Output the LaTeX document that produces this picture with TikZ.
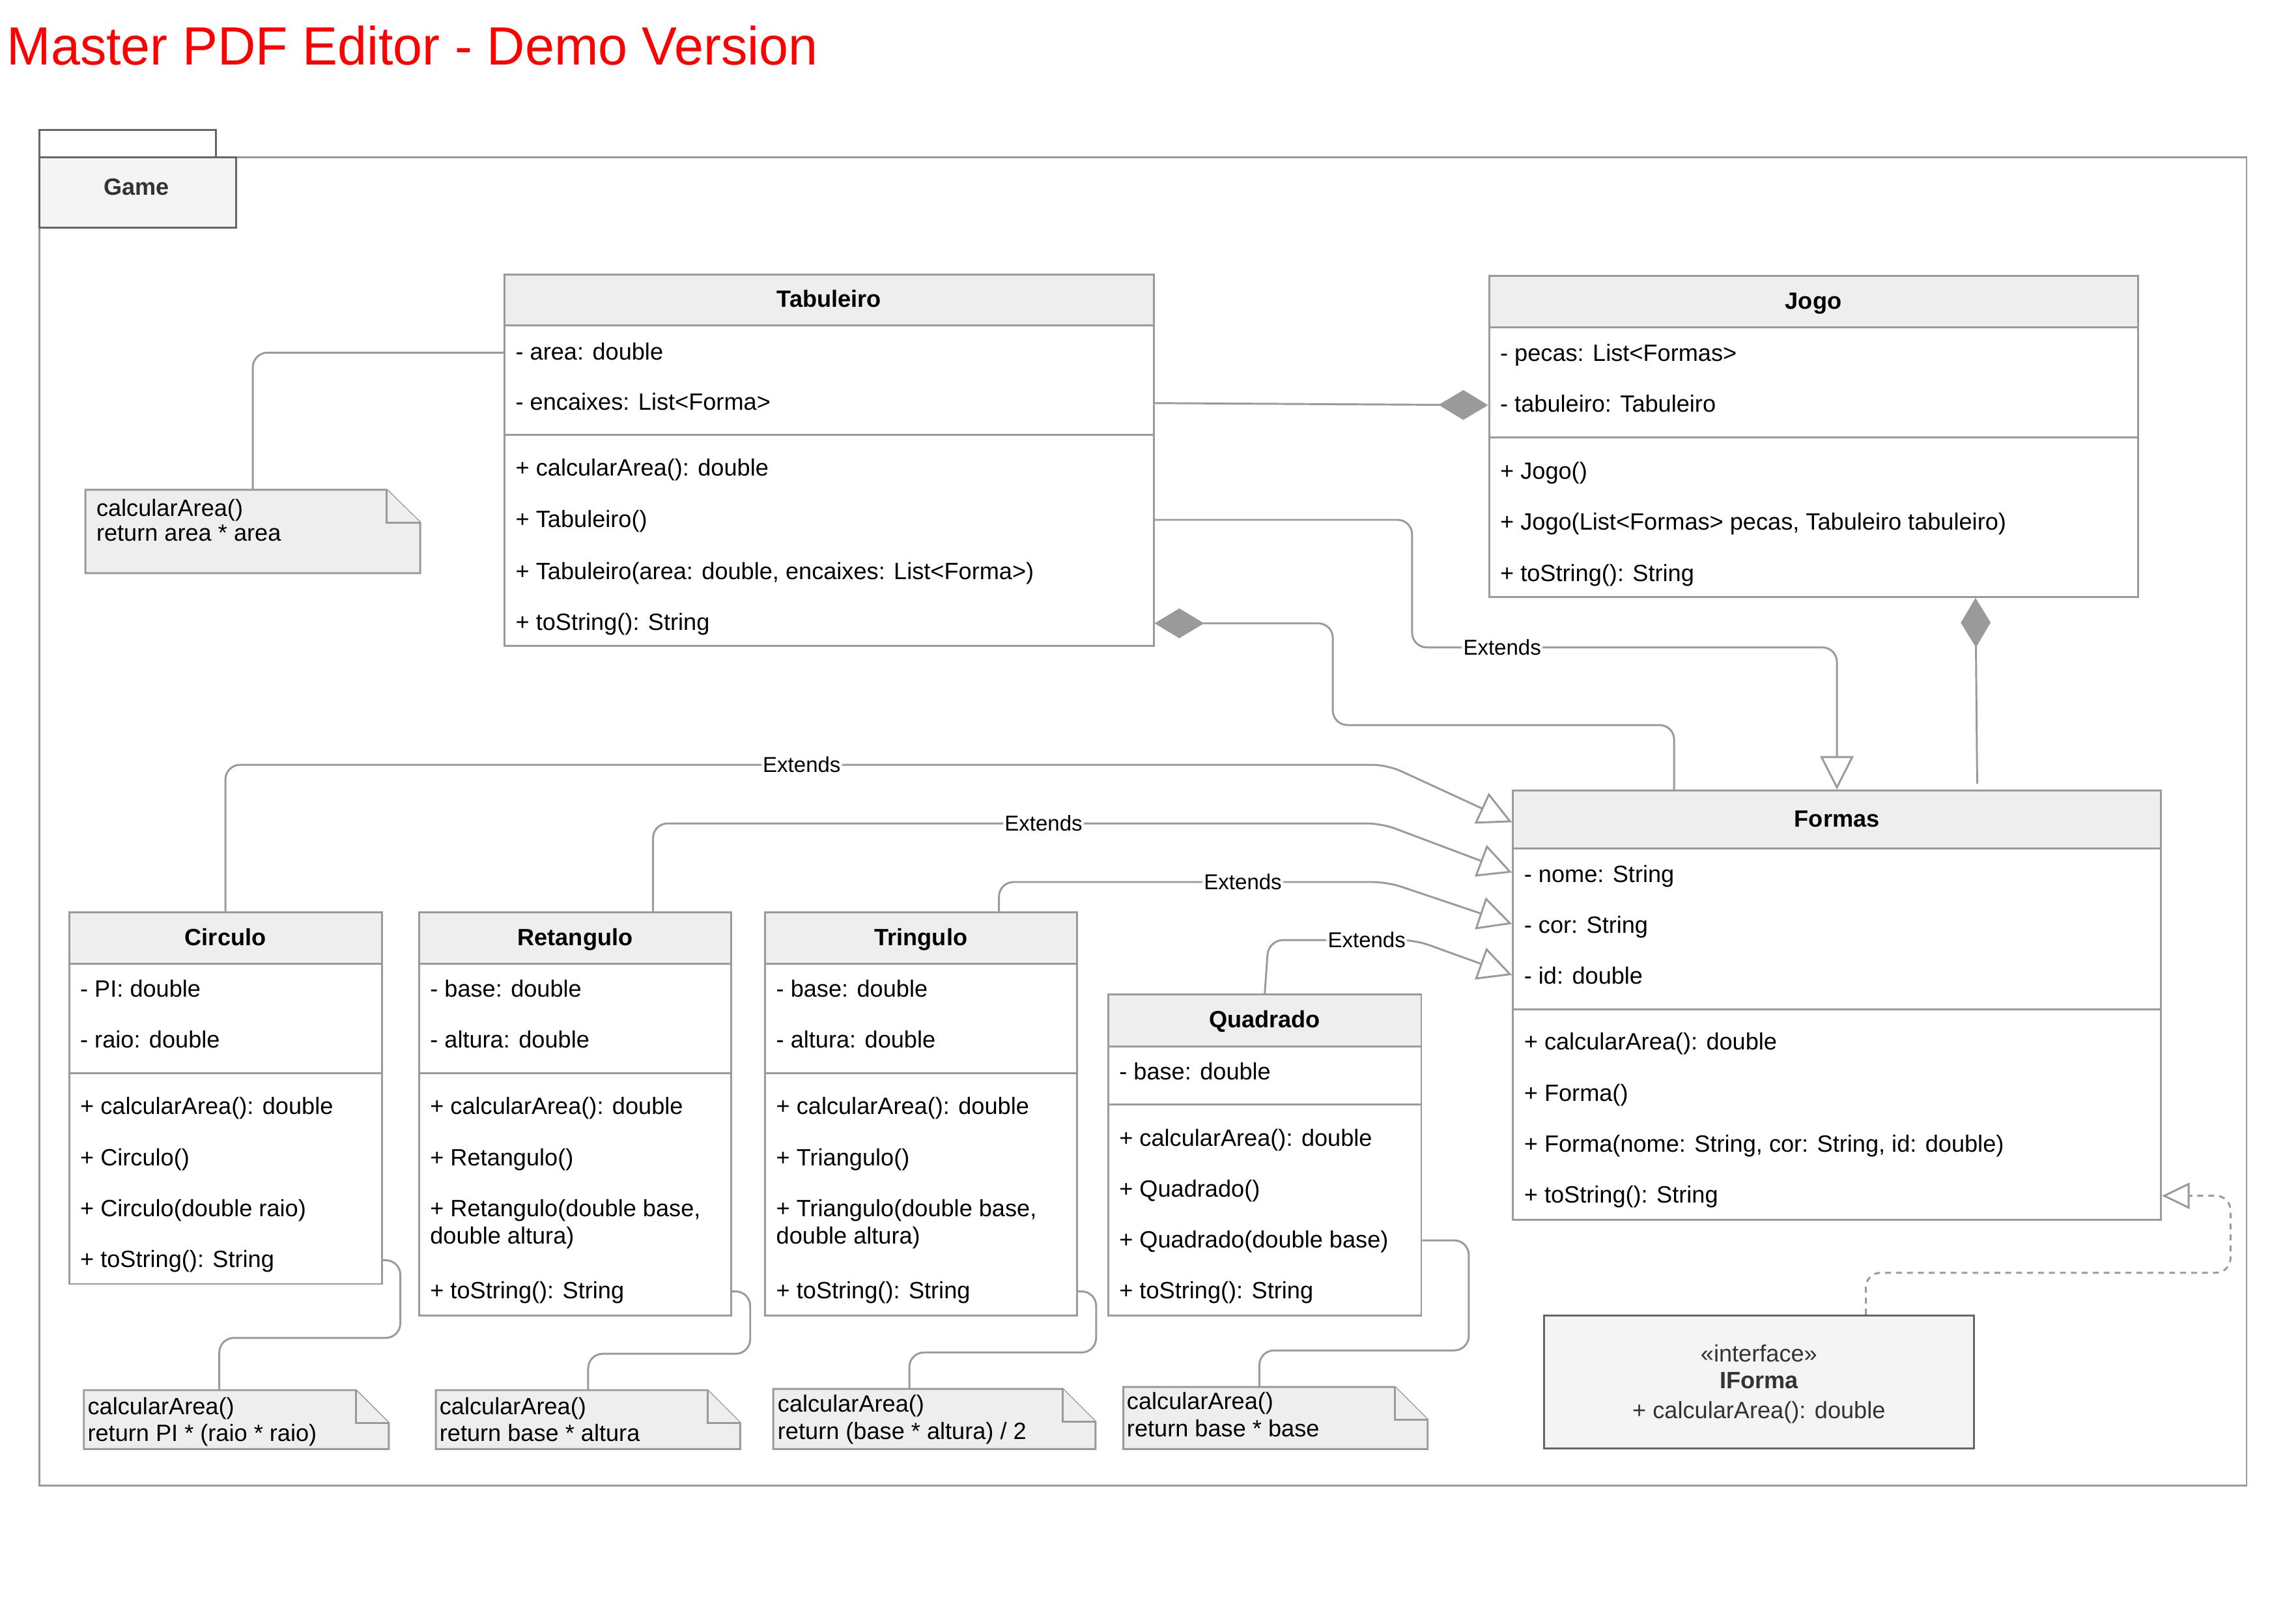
\documentclass[tikz,border=0pt]{standalone}
\usepackage{fontspec}
\setmainfont{Liberation Sans}
\usepackage{graphicx}
\usetikzlibrary{arrows.meta,fit}
\definecolor{edgegray}{HTML}{9A9A9A}
\definecolor{headgray}{HTML}{EEEEEE}
\definecolor{pkggray}{HTML}{F4F4F4}
\definecolor{pkgline}{HTML}{666666}
\definecolor{darktext}{HTML}{333333}
\begin{document}
\begin{tikzpicture}[
  x=0.02cm, y=-0.02cm, line width=0.75pt,
  classbox/.style={draw=edgegray, fill=white, inner sep=0pt},
  headbox/.style={draw=edgegray, fill=headgray, inner sep=0pt},
  headtext/.style={inner sep=0pt, text height=7.4pt, text depth=1.8pt, font=\fontsize{9.2pt}{11pt}\selectfont\bfseries},
  row/.style={anchor=west, inner sep=0pt, text height=7.4pt, text depth=1.8pt, font=\fontsize{9.2pt}{11pt}\selectfont},
  ifacetext/.style={inner sep=0pt, text height=7.4pt, text depth=1.8pt, text=darktext, font=\fontsize{9.2pt}{11pt}\selectfont},
  notebox/.style={draw=edgegray, fill=headgray, line join=miter},
  link/.style={draw=edgegray, rounded corners=0.2cm},
  elabel/.style={fill=white, inner sep=0.6pt, font=\fontsize{8.4pt}{10pt}\selectfont},
  extends/.style={link, -{Triangle[open, length=0.46cm, width=0.46cm]}},
  owns/.style={link, {Diamond[length=0.68cm, width=0.41cm]}-},
  realizes/.style={link, dash pattern=on 0.08cm off 0.07cm, -{Triangle[open, length=0.38cm, width=0.36cm]}}
]
  \useasboundingbox (0,0) rectangle (1568,1114);

  \node[anchor=base west, inner sep=0pt, text=red, font=\fontsize{21pt}{24pt}\selectfont] (title) at (4.1,44.4) {\scalebox{0.98}[1]{Master PDF Editor - Demo Version}};

  % package Game
  \node[draw=edgegray, inner sep=0pt, fit={(27.2,107.9) (1541.6,1019.3)}] (pkg) {};
  \node[draw=pkgline, fill=white, inner sep=0pt, fit={(27.2,89) (148.2,107.9)}] (pkg-tab) {};
  \node[draw=pkgline, fill=pkggray, inner sep=0pt, fit={(27.2,107.9) (161.9,156.2)}] (game) {};
  \node[headtext, text=darktext] (game-t) at (93.8,129) {Game};

  % Tabuleiro
  \node[classbox, fit={(346.2,188.2) (791.6,443)}] (tab) {};
  \node[headbox, fit={(346.2,188.2) (791.6,223.3)}] (tab-h) {};
  \node[headtext] (tab-t) at (tab-h) {Tabuleiro};
  \draw[draw=edgegray] (tab.west |- 0,298.3) -- (tab.east |- 0,298.3);
  \node[row] (tab-a1) at (353.2,242) {- area: double};
  \node[row] (tab-a2) at (353.2,276.6) {- encaixes: List<Forma>};
  \node[row] (tab-m1) at (353.2,321.7) {+ calcularArea(): double};
  \node[row] (tab-m2) at (353.2,356.7) {+ Tabuleiro()};
  \node[row] (tab-m3) at (353.2,392.5) {+ Tabuleiro(area: double, encaixes: List<Forma>)};
  \node[row] (tab-m4) at (353.2,427.7) {+ toString(): String};

  % Jogo
  \node[classbox, fit={(1021.8,189.5) (1467,409.6)}] (jogo) {};
  \node[headbox, fit={(1021.8,189.5) (1467,224.6)}] (jogo-h) {};
  \node[headtext] (jogo-t) at (jogo-h) {Jogo};
  \draw[draw=edgegray] (jogo.west |- 0,300) -- (jogo.east |- 0,300);
  \node[row] (jogo-a1) at (1028.8,243.1) {- pecas: List<Formas>};
  \node[row] (jogo-a2) at (1028.8,278) {- tabuleiro: Tabuleiro};
  \node[row] (jogo-m1) at (1028.8,323.9) {+ Jogo()};
  \node[row] (jogo-m2) at (1028.8,358.6) {+ Jogo(List<Formas> pecas, Tabuleiro tabuleiro)};
  \node[row] (jogo-m3) at (1028.8,393.9) {+ toString(): String};

  % Formas
  \node[classbox, fit={(1038.2,542.4) (1482.9,836.8)}] (forma) {};
  \node[headbox, fit={(1038.2,542.4) (1482.9,582.2)}] (forma-h) {};
  \node[headtext] (forma-t) at (forma-h) {Formas};
  \draw[draw=edgegray] (forma.west |- 0,692.6) -- (forma.east |- 0,692.6);
  \node[row] (forma-a1) at (1045.2,600.5) {- nome: String};
  \node[row] (forma-a2) at (1045.2,635.5) {- cor: String};
  \node[row] (forma-a3) at (1045.2,670.3) {- id: double};
  \node[row] (forma-m1) at (1045.2,715.5) {+ calcularArea(): double};
  \node[row] (forma-m2) at (1045.2,750.7) {+ Forma()};
  \node[row] (forma-m3) at (1045.2,785.5) {+ Forma(nome: String, cor: String, id: double)};
  \node[row] (forma-m4) at (1045.2,820.5) {+ toString(): String};

  % Circulo
  \node[classbox, fit={(47.4,626.1) (262,881)}] (circ) {};
  \node[headbox, fit={(47.4,626.1) (262,661.5)}] (circ-h) {};
  \node[headtext] (circ-t) at (circ-h) {Circulo};
  \draw[draw=edgegray] (circ.west |- 0,736.5) -- (circ.east |- 0,736.5);
  \node[row] (circ-a1) at (54.4,679.4) {- PI: double};
  \node[row] (circ-a2) at (54.4,714.2) {- raio: double};
  \node[row] (circ-m1) at (54.4,759.8) {+ calcularArea(): double};
  \node[row] (circ-m2) at (54.4,794.9) {+ Circulo()};
  \node[row] (circ-m3) at (54.4,829.7) {+ Circulo(double raio)};
  \node[row] (circ-m4) at (54.4,864.7) {+ toString(): String};

  % Retangulo
  \node[classbox, fit={(287.5,626.1) (501.8,902.6)}] (ret) {};
  \node[headbox, fit={(287.5,626.1) (501.8,661.5)}] (ret-h) {};
  \node[headtext] (ret-t) at (ret-h) {Retangulo};
  \draw[draw=edgegray] (ret.west |- 0,736.5) -- (ret.east |- 0,736.5);
  \node[row] (ret-a1) at (294.5,679.4) {- base: double};
  \node[row] (ret-a2) at (294.5,714.2) {- altura: double};
  \node[row] (ret-m1) at (294.5,759.8) {+ calcularArea(): double};
  \node[row] (ret-m2) at (294.5,794.9) {+ Retangulo()};
  \node[row] (ret-m3) at (294.5,829.7) {+ Retangulo(double base,};
  \node[row] (ret-m3b) at (294.5,848.5) {double altura)};
  \node[row] (ret-m4) at (294.5,886.1) {+ toString(): String};

  % Tringulo
  \node[classbox, fit={(525,626.1) (738.9,902.6)}] (tri) {};
  \node[headbox, fit={(525,626.1) (738.9,661.5)}] (tri-h) {};
  \node[headtext] (tri-t) at (tri-h) {Tringulo};
  \draw[draw=edgegray] (tri.west |- 0,736.5) -- (tri.east |- 0,736.5);
  \node[row] (tri-a1) at (532,679.4) {- base: double};
  \node[row] (tri-a2) at (532,714.2) {- altura: double};
  \node[row] (tri-m1) at (532,759.8) {+ calcularArea(): double};
  \node[row] (tri-m2) at (532,794.9) {+ Triangulo()};
  \node[row] (tri-m3) at (532,829.7) {+ Triangulo(double base,};
  \node[row] (tri-m3b) at (532,848.5) {double altura)};
  \node[row] (tri-m4) at (532,886.1) {+ toString(): String};

  % Quadrado
  \node[classbox, fit={(760.4,682.5) (975.3,902.6)}] (quad) {};
  \node[headbox, fit={(760.4,682.5) (975.3,717.9)}] (quad-h) {};
  \node[headtext] (quad-t) at (quad-h) {Quadrado};
  \draw[draw=edgegray] (quad.west |- 0,757.8) -- (quad.east |- 0,757.8);
  \node[row] (quad-a1) at (767.4,735.9) {- base: double};
  \node[row] (quad-m1) at (767.4,781.5) {+ calcularArea(): double};
  \node[row] (quad-m2) at (767.4,816.3) {+ Quadrado()};
  \node[row] (quad-m3) at (767.4,851.1) {+ Quadrado(double base)};
  \node[row] (quad-m4) at (767.4,886.1) {+ toString(): String};

  % interface
  \node[draw=pkgline, fill=pkggray, inner sep=0pt, fit={(1059.5,902.6) (1354.4,993.7)}] (iforma) {};
  \node[ifacetext] (iforma-s) at (1207,929.4) {«interface»};
  \node[ifacetext, font=\fontsize{9.2pt}{11pt}\selectfont\bfseries] (iforma-n) at (1207,948) {IForma};
  \node[ifacetext] (iforma-m) at (1207,968.3) {+ calcularArea(): double};

  % notes
  \node[inner sep=0pt, fit={(59.3,336.7) (287.7,392.6)}] (n-tab) {};
  \draw[notebox] (n-tab.north west) -- ([xshift=-0.46cm]n-tab.north east) -- ([yshift=-0.45cm]n-tab.north east) -- (n-tab.south east) -- (n-tab.south west) -- cycle;
  \draw[notebox] ([xshift=-0.46cm]n-tab.north east) |- ([yshift=-0.45cm]n-tab.north east);
  \node[row] (n-tab-1) at (65.5,349.4) {calcularArea()};
  \node[row] (n-tab-2) at (65.5,366.5) {return area * area};

  \node[inner sep=0pt, fit={(58.2,954.5) (266.1,993.6)}] (n-circ) {};
  \draw[notebox] (n-circ.north west) -- ([xshift=-0.45cm]n-circ.north east) -- ([yshift=-0.45cm]n-circ.north east) -- (n-circ.south east) -- (n-circ.south west) -- cycle;
  \draw[notebox] ([xshift=-0.45cm]n-circ.north east) |- ([yshift=-0.45cm]n-circ.north east);
  \node[row] (n-circ-1) at (59.5,965.9) {calcularArea()};
  \node[row] (n-circ-2) at (59.5,983.9) {return PI * (raio * raio)};

  \node[inner sep=0pt, fit={(299.7,954.5) (507.3,993.6)}] (n-ret) {};
  \draw[notebox] (n-ret.north west) -- ([xshift=-0.45cm]n-ret.north east) -- ([yshift=-0.45cm]n-ret.north east) -- (n-ret.south east) -- (n-ret.south west) -- cycle;
  \draw[notebox] ([xshift=-0.45cm]n-ret.north east) |- ([yshift=-0.45cm]n-ret.north east);
  \node[row] (n-ret-1) at (301,965.9) {calcularArea()};
  \node[row] (n-ret-2) at (301,983.9) {return base * altura};

  \node[inner sep=0pt, fit={(531.3,953.7) (751.1,993.6)}] (n-tri) {};
  \draw[notebox] (n-tri.north west) -- ([xshift=-0.45cm]n-tri.north east) -- ([yshift=-0.45cm]n-tri.north east) -- (n-tri.south east) -- (n-tri.south west) -- cycle;
  \draw[notebox] ([xshift=-0.45cm]n-tri.north east) |- ([yshift=-0.45cm]n-tri.north east);
  \node[row] (n-tri-1) at (533,964) {calcularArea()};
  \node[row] (n-tri-2) at (533,982.5) {return (base * altura) / 2};

  \node[inner sep=0pt, fit={(771.5,952.3) (979,993.6)}] (n-quad) {};
  \draw[notebox] (n-quad.north west) -- ([xshift=-0.45cm]n-quad.north east) -- ([yshift=-0.45cm]n-quad.north east) -- (n-quad.south east) -- (n-quad.south west) -- cycle;
  \draw[notebox] ([xshift=-0.45cm]n-quad.north east) |- ([yshift=-0.45cm]n-quad.north east);
  \node[row] (n-quad-1) at (772.6,962.2) {calcularArea()};
  \node[row] (n-quad-2) at (772.6,981) {return base * base};

  % connectors
  \draw[link] (tab.west |- tab-a1) -| (n-tab.north);
  \draw[link, -{Diamond[length=0.68cm, width=0.41cm]}] (tab.east |- tab-a2) -- (jogo.west |- jogo-a2);
  \draw[extends] (tab.east |- tab-m2) -| (969,444.2) -| node[elabel, pos=0.106] {Extends} (forma.north -| 1260.5,0);
  \draw[owns] (tab.east |- tab-m4) -| (914.6,497.5) -| (forma.north -| 1148.8,0);
  \draw[owns, shorten >=0.08cm] (jogo.south -| 1355.6,0) -- (forma.north -| 1356.8,0);

  \draw[extends] (circ.north) |- node[elabel, pos=0.748] {Extends} (952,524.8) -- (forma.west |- 0,564.2);
  \draw[extends] (ret.north -| 448.1,0) |- node[elabel, pos=0.768] {Extends} (948,565) -- (forma.west |- 0,598.7);
  \draw[extends] (tri.north -| 685.5,0) |- node[elabel, pos=0.814] {Extends} (952,605.2) -- (forma.west |- 0,634);
  \draw[extends] (quad.north) -- (870.5,645) -- node[elabel, pos=0.67] {Extends} (971,645) -- (forma.west |- 0,669);

  \draw[realizes] (iforma.north -| 1280.4,0) |- (1530.6,873.3) |- (forma.east |- forma-m4);

  \draw[link] (circ.east |- circ-m4) -| (274.7,918) -| (n-circ.north -| 150.5,0);
  \draw[link] (ret.east |- ret-m4) -| (514.8,928.9) -| (n-ret.north -| 403.6,0);
  \draw[link] (tri.east |- tri-m4) -| (752.2,928) -| (n-tri.north -| 624,0);
  \draw[link] (quad.east |- quad-m3) -| (1007.9,926.6) -| (n-quad.north -| 864.2,0);
\end{tikzpicture}
\end{document}
